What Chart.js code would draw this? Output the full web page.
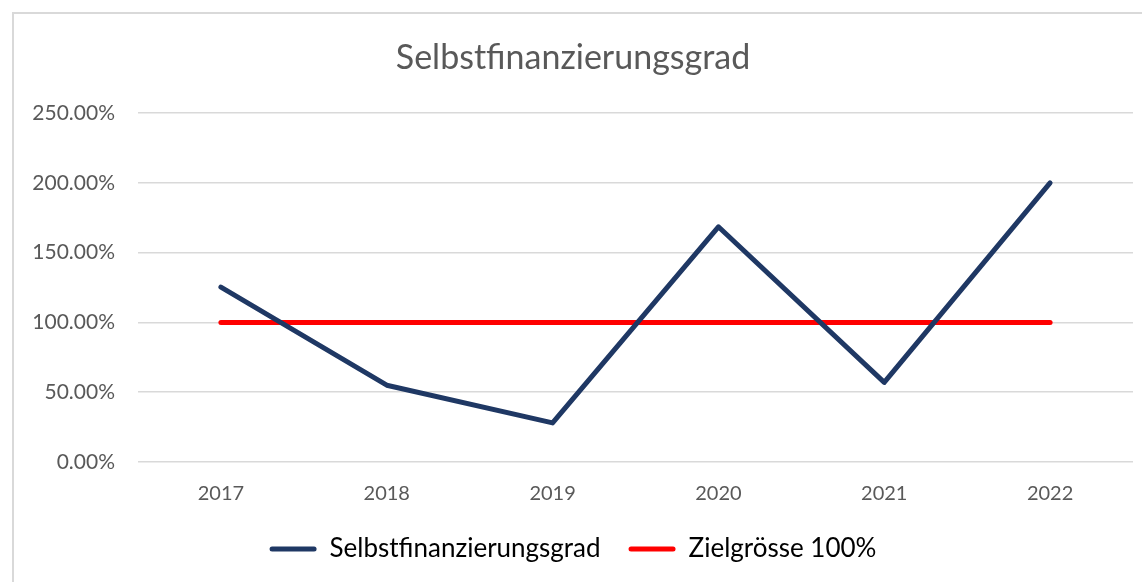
<!DOCTYPE html>
<html>
<head>
<meta charset="utf-8">
<script src="https://cdn.jsdelivr.net/npm/chart.js"></script>
<style>
html,body{margin:0;padding:0;background:#fff;overflow:hidden;width:1142px;height:582px;}
#wrap{position:relative;width:1174px;height:582px;}
</style>
</head>
<body>
<div id="wrap"><canvas id="c" width="1174" height="582"></canvas></div>
<script>
const categories = ['2017','2018','2019','2020','2021','2022'];
const selbstfinanzierungsgrad = [125.3, 55.0, 28.0, 168.5, 57.0, 200.0];
const zielgroesse = [100, 100, 100, 100, 100, 100];
const seriesNames = ['Selbstfinanzierungsgrad', 'Zielgrösse 100%'];
const titleText = 'Selbstfinanzierungsgrad';
const yTicks = {min: 0, max: 250, step: 50};

const FONT = 'Lato, "Liberation Sans", sans-serif';

const borderPlugin = {
  id: 'outerBorder',
  beforeDraw(chart) {
    const ctx = chart.ctx;
    ctx.save();
    ctx.fillStyle = '#fff';
    ctx.fillRect(0, 0, chart.width, chart.height);
    ctx.strokeStyle = '#d9d9d9';
    ctx.lineWidth = 2;
    ctx.strokeRect(13, 13, chart.width + 20, chart.height + 20);
    ctx.restore();
  }
};

new Chart(document.getElementById('c'), {
  type: 'line',
  data: {
    labels: categories,
    datasets: [
      {
        label: seriesNames[0],
        data: selbstfinanzierungsgrad,
        borderColor: '#1f3864',
        backgroundColor: '#1f3864',
        borderWidth: 5,
        pointRadius: 0,
        borderCapStyle: 'round',
        borderJoinStyle: 'round',
        tension: 0
      },
      {
        label: seriesNames[1],
        data: zielgroesse,
        borderColor: '#ff0000',
        backgroundColor: '#ff0000',
        borderWidth: 5,
        pointRadius: 0,
        borderCapStyle: 'round',
        tension: 0
      }
    ]
  },
  options: {
    responsive: false,
    animation: false,
    events: [],
    layout: {padding: {left: 13, right: 41, top: 0, bottom: 10}},
    plugins: {
      title: {
        display: true,
        text: titleText,
        color: '#595959',
        font: {family: FONT, size: 34, weight: 'normal'},
        padding: {top: 37.6, bottom: 34.6}
      },
      legend: {
        display: true,
        position: 'bottom',
        labels: {
          color: '#595959',
          font: {family: FONT, size: 26},
          boxWidth: 47,
          boxHeight: 5,
          padding: 28,
          generateLabels(chart) {
            return chart.data.datasets.map((ds, i) => ({
              text: ds.label,
              fillStyle: ds.borderColor,
              strokeStyle: ds.borderColor,
              lineWidth: 0,
              borderRadius: 2.5,
              datasetIndex: i
            }));
          }
        }
      },
      tooltip: {enabled: false}
    },
    scales: {
      x: {
        offset: true,
        grid: {display: false, drawTicks: false},
        border: {display: false},
        ticks: {color: '#595959', font: {family: FONT, size: 20}, padding: 20},
        afterFit(scale) { scale.height = 46; }
      },
      y: {
        min: yTicks.min,
        max: yTicks.max,
        grid: {color: '#d9d9d9', lineWidth: 1.5, drawTicks: false},
        border: {display: false},
        ticks: {
          stepSize: yTicks.step,
          color: '#595959',
          font: {family: FONT, size: 21},
          padding: 23,
          callback: v => v.toFixed(2) + '%'
        },
        afterFit(scale) { scale.width = 125; }
      }
    }
  },
  plugins: [borderPlugin]
});
</script>
</body>
</html>
